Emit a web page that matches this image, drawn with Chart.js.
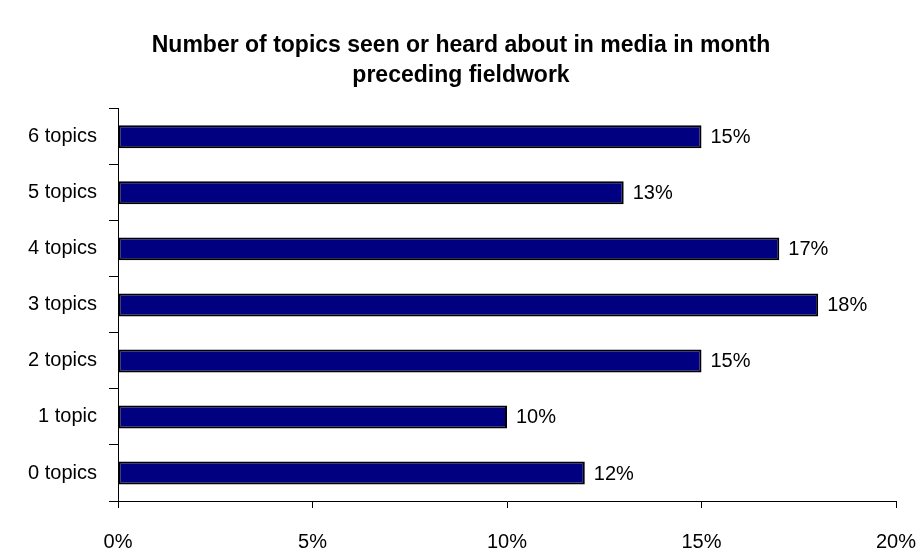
<!DOCTYPE html>
<html>
<head>
<meta charset="utf-8">
<script src="https://cdn.jsdelivr.net/npm/chart.js@4/dist/chart.umd.min.js"></script>
<style>
  html, body { margin: 0; padding: 0; background: #fff; }
  #wrap { width: 922px; height: 553px; }
</style>
</head>
<body>
<div id="wrap"><canvas id="myChart" width="922" height="553"></canvas></div>
<script>
const categories = ['6 topics', '5 topics', '4 topics', '3 topics', '2 topics', '1 topic', '0 topics'];
const shares = [15, 13, 17, 18, 15, 10, 12];
const xTicks = [0, 5, 10, 15, 20];

const fontFamily = 'Arial, "Liberation Sans", sans-serif';

// writes the value to the right of each bar
const valueLabels = {
    id: 'valueLabels',
    afterDatasetsDraw: function (chart) {
        const ctx = chart.ctx;
        const meta = chart.getDatasetMeta(0);
        ctx.save();
        ctx.font = '20px ' + fontFamily;
        ctx.fillStyle = '#000';
        ctx.textAlign = 'left';
        ctx.textBaseline = 'middle';
        meta.data.forEach(function (bar, i) {
            ctx.fillText(shares[i] + '%', bar.x + 9, bar.y + 1);
        });
        ctx.restore();
    }
};

const data = {
    labels: categories,
    datasets: [{
        data: shares,
        backgroundColor: '#000080',
        borderColor: '#000000',
        borderWidth: 2,
        borderSkipped: false,
        barPercentage: 0.41,
        categoryPercentage: 1.0
    }]
};

const config = {
    type: 'bar',
    data: data,
    plugins: [valueLabels],
    options: {
        indexAxis: 'y',
        responsive: false,
        animation: false,
        layout: { padding: 0 },
        plugins: {
            legend: { display: false },
            tooltip: { enabled: false },
            title: {
                display: true,
                text: ['Number of topics seen or heard about in media in month', 'preceding fieldwork'],
                color: '#000',
                font: { family: fontFamily, size: 23, weight: 'bold', lineHeight: 1.3 },
                padding: { top: 31, bottom: 18 }
            }
        },
        scales: {
            x: {
                min: 0,
                max: 20,
                afterBuildTicks: function (scale) {
                    scale.ticks = xTicks.map(function (v) { return { value: v }; });
                },
                afterFit: function (scale) {
                    scale.height = 52;
                    scale.paddingLeft = 0;
                    scale.paddingRight = 26;
                },
                ticks: {
                    color: '#000',
                    font: { family: fontFamily, size: 20 },
                    padding: 22,
                    maxRotation: 0,
                    callback: function (v) { return v + '%'; }
                },
                grid: { drawOnChartArea: false, drawTicks: true, tickLength: 7, color: '#000' },
                border: { display: true, color: '#000', width: 1 }
            },
            y: {
                afterFit: function (scale) { scale.width = 118; },
                ticks: {
                    color: '#000',
                    font: { family: fontFamily, size: 20 },
                    padding: 12
                },
                grid: { offset: true, drawOnChartArea: false, drawTicks: true, tickLength: 9, color: '#000' },
                border: { display: true, color: '#000', width: 1 }
            }
        }
    }
};

const myChart = new Chart(document.getElementById('myChart'), config);
</script>
</body>
</html>
